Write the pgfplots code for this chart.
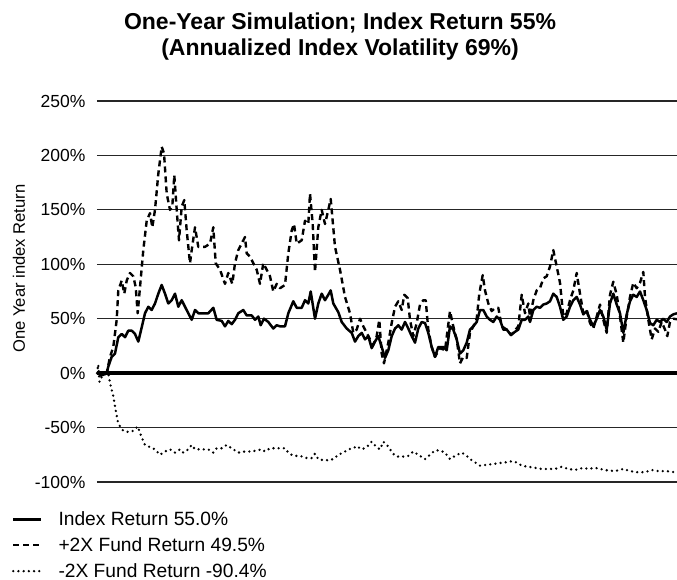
\documentclass[border=0pt]{standalone}
\usepackage{pgfplots}
\pgfplotsset{compat=1.18}
\usepackage{fontspec}
\setmainfont{Liberation Sans}
\begin{document}
\begin{tikzpicture}
\path[use as bounding box] (-97pt,-98pt) rectangle (580pt,482pt);
\begin{axis}[
  scale only axis, width=580pt, height=381pt,
  xmin=0, xmax=580, ymin=-100, ymax=250,
  axis line style={draw=none},
  major tick length=0pt,
  xtick=\empty,
  ytick={-100,-50,0,50,100,150,200,250},
  yticklabel={\pgfmathprintnumber{\tick}\%},
  /pgf/number format/assume math mode=true,
  yticklabel style={font=\fontsize{17.5}{20}\selectfont, xshift=-8pt},
  ymajorgrids,
  grid style={line width=1.2pt, black!85},
  ylabel={One Year index Return},
  every axis y label/.style={at={(axis description cs:-0.1345,0.56)}, rotate=90, anchor=center, font=\fontsize{16.6}{19}\selectfont},
  title={One-Year Simulation; Index Return 55\%\\(Annualized Index Volatility 69\%)},
  title style={at={(axis description cs:0.419,1.153)}, anchor=center, align=center, font=\fontsize{23}{26}\selectfont\bfseries},
  clip=false,
  legend style={at={(axis description cs:-0.147,-0.072)}, anchor=north west, draw=none, fill=none, inner sep=0pt, font=\fontsize{19.2}{22}\selectfont, row sep=6.5pt, legend cell align=left, /tikz/every odd column/.append style={column sep=14pt}},
  legend image code/.code={\draw[#1] (0pt,0pt) -- (28pt,0pt);},
  every axis plot/.append style={line join=round},
]
\addplot[line width=4pt, black, forget plot] coordinates {(0,0) (580,0)};

\addplot[black, line width=2.5pt] coordinates {
(0,0) (1.3,0) (5,-2) (9.7,0) (11.3,6) (14.7,15) (18,18) (21.3,33) (24.7,36) (28,33) (31.3,39) (34.7,39) (38,36) (41.3,29) (44.7,42) (48,55) (51.3,61) (54.7,58) (58,64) (61.3,73) (64.7,81) (68,73) (71.3,64) (74.7,67) (78,73) (81.3,61) (84.7,67) (88,61) (91.3,55) (94.7,49) (98,58) (101.3,55) (104.7,55) (111.3,55) (116.3,60) (119.7,49) (124.7,48) (128,43) (131.3,48) (134.7,45) (138,49) (141.3,55) (146.3,58) (149.7,53) (154.7,53) (158,49) (161.3,52) (163.7,44) (167,50) (171.3,47) (176.3,41) (179.7,44) (183,43) (188,43) (191.3,55) (196.3,66) (199.7,60) (204.7,60) (208,67) (211.3,64) (213.7,75) (218,50) (221.3,64) (224.7,73) (228,67) (231.3,72) (233.7,76) (236.3,64) (241.3,56) (244.7,47) (249.7,41) (254.7,37) (258,29) (261.3,34) (264.7,37) (268,31) (271.3,34) (274.7,23) (278,29) (281.3,34) (284.7,24) (288,14) (291.3,21) (294.7,34) (298,41) (301.3,44) (304.7,40) (308,47) (311.3,41) (314.7,34) (318,28) (321.3,41) (324.7,47) (328,46) (331.3,37) (334.7,24) (338,15) (341.3,24) (346.3,24) (349.7,21) (353,43) (356.3,40) (359.7,31) (363,18) (366.3,21) (369.7,28) (373,40) (376.3,43) (379.7,47) (383,58) (386.3,58) (389.7,52) (393,49) (396.3,47) (399.7,52) (403,49) (406.3,40) (409.7,40) (414,35) (418,38) (421.3,40) (424.7,49) (428,49) (431.3,52) (433,47) (436.3,58) (439.7,61) (443,60) (446.3,63) (449.7,64) (453,66) (456.3,73) (459.7,70) (463,61) (466.3,49) (469.7,52) (473,61) (476.3,67) (479.7,70) (483,63) (486.3,54) (489.7,57) (493,49) (496.3,43) (499.7,50) (503,58) (506.3,52) (509.7,40) (513,64) (516.3,73) (519.7,63) (523,55) (526.3,37) (529.7,54) (533,66) (536.3,72) (539.7,70) (543,75) (546.3,67) (549.7,58) (553,46) (556.3,44) (559.7,49) (563,47) (566.3,50) (569.7,47) (573,52) (576.3,54) (580,55)
};
\addlegendentry{Index Return 55.0\%}

\addplot[black, line width=2.4pt, dash pattern=on 6pt off 4pt] coordinates {
(0,0) (1.3,0) (5,-3) (9.7,0) (13,15) (16.3,24) (19.7,49) (21.3,76) (24.7,85) (27.3,73) (29.7,85) (33,92) (36.3,89) (38.7,79) (40.7,55) (43,79) (46.3,113) (49.7,140) (53,147) (55.3,134) (58,150) (61.3,183) (64.7,208) (67,202) (69.7,165) (73,150) (75.3,153) (77.3,182) (79.7,150) (82,122) (84.7,153) (87.3,159) (89.7,131) (93,101) (94.7,113) (98,134) (101.3,116) (108,116) (113,119) (116.3,134) (118.7,101) (123,95) (128,82) (131.3,92) (135.3,82) (138,101) (141.3,113) (146.3,122) (148,125) (149.7,110) (153,107) (156.3,101) (159.7,95) (163,82) (166.3,101) (169.7,95) (173,89) (176.3,75) (179.7,82) (183,78) (188,81) (191.3,110) (194.7,131) (197,137) (199.7,119) (204.7,122) (208,140) (211.3,137) (213,165) (215.7,137) (218,93) (221.3,134) (224.7,150) (228,137) (231.3,150) (233.7,160) (238,116) (243,95) (248,70) (253,55) (256.3,37) (259.7,40) (263,50) (266.3,43) (269.7,37) (273,31) (276.3,26) (279.7,34) (282.3,49) (284.7,18) (287,9) (291.3,28) (294.7,46) (298,61) (301.3,66) (304.7,58) (307.3,72) (310.7,69) (313,49) (316.3,34) (319.7,46) (323,63) (326.3,67) (328.7,67) (331.3,40) (334.7,24) (338,15) (343,23) (348,21) (353,57) (356.3,43) (359.7,31) (363,9) (366.3,15) (369.7,14) (373,37) (376.3,43) (379.7,50) (382.3,73) (385.7,90) (388,76) (391.3,64) (394.7,57) (398,60) (401.3,60) (404.7,43) (409.7,40) (414,35) (421.3,43) (424.7,72) (428,55) (431.3,64) (433,52) (436.3,67) (439.7,76) (443,78) (446.3,87) (449.7,89) (453,98) (456.3,113) (459.7,98) (463,83) (466.3,52) (469.7,55) (473,67) (476.3,76) (479.7,92) (483,73) (486.3,55) (489.7,58) (493,46) (496.3,41) (499.7,52) (503,63) (506.3,49) (509.7,37) (513,72) (516.3,84) (519.7,72) (523,52) (526.3,28) (529.7,52) (533,70) (536.3,83) (539.7,78) (543,83) (546.3,93) (548,70) (551.3,49) (554.7,31) (558,41) (561.3,38) (564.7,47) (568,40) (570.3,34) (573,47) (576.3,50) (580,49.5)
};
\addlegendentry{+2X Fund Return 49.5\%}

\addplot[black, line width=2.6pt, line cap=round, dash pattern=on 0pt off 5.2pt] coordinates {
(0,0) (1.3,8) (2.5,-8) (5,-3) (8,-1) (11.3,0) (13,-9) (16.3,-21) (18.7,-34) (20.7,-44) (23,-49) (26.3,-53) (31.3,-54) (36.3,-53) (40.7,-49) (44.7,-59) (48,-66) (53,-68) (58,-70) (63,-75) (68,-72) (73,-70) (78,-73) (83,-70) (86.3,-73) (91.3,-70) (94.7,-66) (98,-70) (104.7,-70) (111.3,-70) (116.3,-73) (119.7,-69) (124.7,-69) (129.7,-66) (134.7,-69) (141.3,-73) (148,-72) (154.7,-72) (159.7,-71) (164.7,-70) (168,-72) (173,-69) (179.7,-69) (188,-69) (191.3,-73) (196.3,-76) (203,-76) (209.7,-78) (214.7,-78) (218,-74) (221.3,-79) (226.3,-80) (231.3,-80) (236.3,-79) (241.3,-75) (246.3,-73) (251.3,-70) (256.3,-69) (259.7,-67) (264.7,-70) (269.7,-68) (274.7,-63) (279.7,-68) (283,-70) (286.3,-63) (290,-66) (293,-70) (298,-76) (303,-77) (311.3,-76) (316.3,-72) (321.3,-75) (328,-79) (333,-75) (338,-71) (343,-71) (348,-73) (353,-79) (358,-76) (364.7,-73) (369.7,-76) (374.7,-80) (383,-85) (391.3,-84) (399.7,-83) (408,-82) (414.7,-81) (419.7,-82) (424.7,-85) (431.3,-86) (438,-87) (444.7,-88) (451.3,-88) (458,-88) (464.7,-86) (471.3,-88) (478,-89) (486.3,-87) (491.3,-88) (498,-87) (503,-88) (508,-89) (518,-90) (526.3,-88) (533,-90) (539.7,-91) (548,-91) (554.7,-89) (561.3,-90) (569.7,-90) (578,-91) (580,-90.4)
};
\addlegendentry{-2X Fund Return -90.4\%}
\end{axis}
\end{tikzpicture}
\end{document}
